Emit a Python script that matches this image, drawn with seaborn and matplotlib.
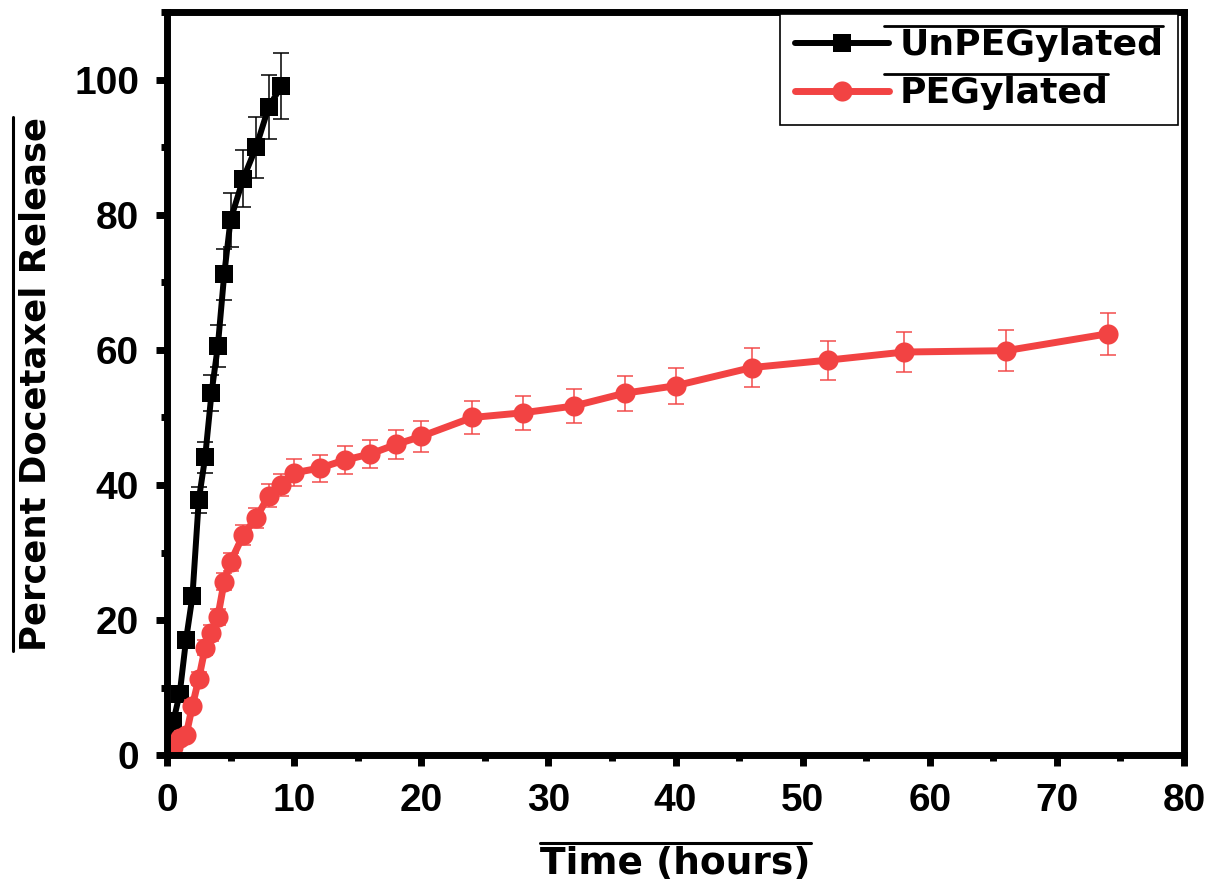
import numpy as np
import pandas as pd
import matplotlib
matplotlib.use("Agg")
import matplotlib.pyplot as plt
import seaborn as sns
from matplotlib.lines import Line2D
from matplotlib.ticker import MultipleLocator

# ---- data ----
time_unpeg = [0, 0.5, 1, 1.5, 2, 2.5, 3, 3.5, 4, 4.5, 5, 6, 7, 8, 9]
release_unpeg = [0, 5.0, 9.1, 17.1, 23.5, 37.8, 44.1, 53.6, 60.6, 71.2, 79.3, 85.4, 90.0, 96.0, 99.1]
err_unpeg = [0, 0.5, 0.8, 1.0, 1.2, 1.9, 2.3, 2.7, 3.1, 3.8, 4.0, 4.2, 4.5, 4.75, 4.9]

time_peg = [0, 0.5, 1, 1.5, 2, 2.5, 3, 3.5, 4, 4.5, 5, 6, 7, 8, 9, 10, 12, 14, 16, 18,
            20, 24, 28, 32, 36, 40, 46, 52, 58, 66, 74]
release_peg = [0, 1.2, 2.5, 2.9, 7.3, 11.3, 15.9, 18.1, 20.5, 25.7, 28.6, 32.6, 35.1, 38.4,
               40.0, 41.8, 42.5, 43.7, 44.6, 46.0, 47.2, 50.0, 50.7, 51.7, 53.6, 54.7,
               57.4, 58.5, 59.7, 59.9, 62.4]
err_peg = [0, 0.3, 0.5, 0.6, 0.8, 1.0, 1.1, 1.2, 1.2, 1.3, 1.4, 1.5, 1.5, 1.7, 1.6, 2.0,
           2.0, 2.1, 2.1, 2.2, 2.3, 2.5, 2.5, 2.5, 2.6, 2.7, 2.9, 2.9, 3.0, 3.0, 3.1]

label_unpeg = "UnPEGylated"
label_peg = "PEGylated"
xlabel = "Time (hours)"
ylabel = "Percent Docetaxel Release"

# ---- style ----
sns.set_style("ticks")
plt.rcParams["font.family"] = ["Liberation Sans", "DejaVu Sans"]
for k in ["text.color", "axes.labelcolor", "xtick.color", "ytick.color", "axes.edgecolor"]:
    plt.rcParams[k] = "black"

RED = "#F24343"
BLACK = "#000000"

fig = plt.figure(figsize=(12.18, 8.88), dpi=100)
ax = fig.add_axes([167 / 1218, 1 - 755 / 888, (1184 - 167) / 1218, (755 - 12.5) / 888])

df_un = pd.DataFrame({"t": time_unpeg, "v": release_unpeg})
df_pe = pd.DataFrame({"t": time_peg, "v": release_peg})

sns.lineplot(data=df_un, x="t", y="v", ax=ax, color=BLACK, linewidth=4.3,
             marker="s", markersize=12.5, markeredgewidth=0, label=label_unpeg, zorder=3)
ax.errorbar(time_unpeg, release_unpeg, yerr=err_unpeg, fmt="none", ecolor=BLACK,
            elinewidth=1.1, capsize=5.5, capthick=1.1, zorder=4)

sns.lineplot(data=df_pe, x="t", y="v", ax=ax, color=RED, linewidth=5.0,
             marker="o", markersize=14.5, markeredgewidth=0, label=label_peg, zorder=5)
ax.errorbar(time_peg, release_peg, yerr=err_peg, fmt="none", ecolor=RED, alpha=0.8,
            elinewidth=1.3, capsize=5.5, capthick=1.3, zorder=6)

ax.set_xlim(0, 80)
ax.set_ylim(0, 110)
ax.xaxis.set_major_locator(MultipleLocator(10))
ax.xaxis.set_minor_locator(MultipleLocator(5))
ax.set_yticks([0, 20, 40, 60, 80, 100])
ax.yaxis.set_minor_locator(MultipleLocator(10))

for side in ["left", "bottom", "top", "right"]:
    ax.spines[side].set_visible(True)
    ax.spines[side].set_linewidth(5.0)
    ax.spines[side].set_color("black")
    ax.spines[side].set_zorder(10)

ax.tick_params(axis="both", which="major", direction="out", length=8, width=5,
               pad=12, labelsize=28, top=False, right=False, colors="black")
ax.tick_params(axis="both", which="minor", direction="out", length=4, width=5,
               top=False, right=False, colors="black")
for lab in ax.get_xticklabels() + ax.get_yticklabels():
    lab.set_fontweight("bold")

ax.set_xlabel(xlabel, fontsize=27, fontweight="bold", family="DejaVu Sans", color="black")
ax.set_ylabel(ylabel, fontsize=25.5, fontweight="bold", family="DejaVu Sans", color="black")
ax.xaxis.set_label_coords(0.5, -(846 - 755) / 742.5)
ax.yaxis.set_label_coords(-(167 - 53) / 1017, 0.5)

leg = ax.legend(loc="upper right", bbox_to_anchor=(0.994, 0.998), borderaxespad=0,
                frameon=True, fancybox=False, framealpha=1, edgecolor="black",
                prop={"family": "DejaVu Sans", "weight": "bold", "size": 26},
                handlelength=2.6, handletextpad=0.3, labelspacing=0.38,
                borderpad=0.4)
leg.get_frame().set_linewidth(1.2)
leg.set_zorder(20)
for t in leg.get_texts():
    t.set_color("black")

# ---- overlines ----
fig.canvas.draw()
inv = fig.transFigure.inverted()


def hline(x0, x1, y, lw=2.2):
    p0 = inv.transform((x0, y))
    p1 = inv.transform((x1, y))
    fig.add_artist(Line2D([p0[0], p1[0]], [p0[1], p1[1]], color="black", lw=lw,
                          transform=fig.transFigure, zorder=30))


def vline(x, y0, y1, lw=2.2):
    p0 = inv.transform((x, y0))
    p1 = inv.transform((x, y1))
    fig.add_artist(Line2D([p0[0], p1[0]], [p0[1], p1[1]], color="black", lw=lw,
                          transform=fig.transFigure, zorder=30))


r = fig.canvas.get_renderer()
bb = ax.xaxis.label.get_window_extent(r)
hline(bb.x0, bb.x1, bb.y1 + 3)
bb = ax.yaxis.label.get_window_extent(r)
vline(bb.x0 - 6, bb.y0, bb.y1)
for t in leg.get_texts():
    bb = t.get_window_extent(r)
    hline(bb.x0 - 15, bb.x1, bb.y1 + 2, lw=2.0)

fig.savefig("out.png", dpi=100)
